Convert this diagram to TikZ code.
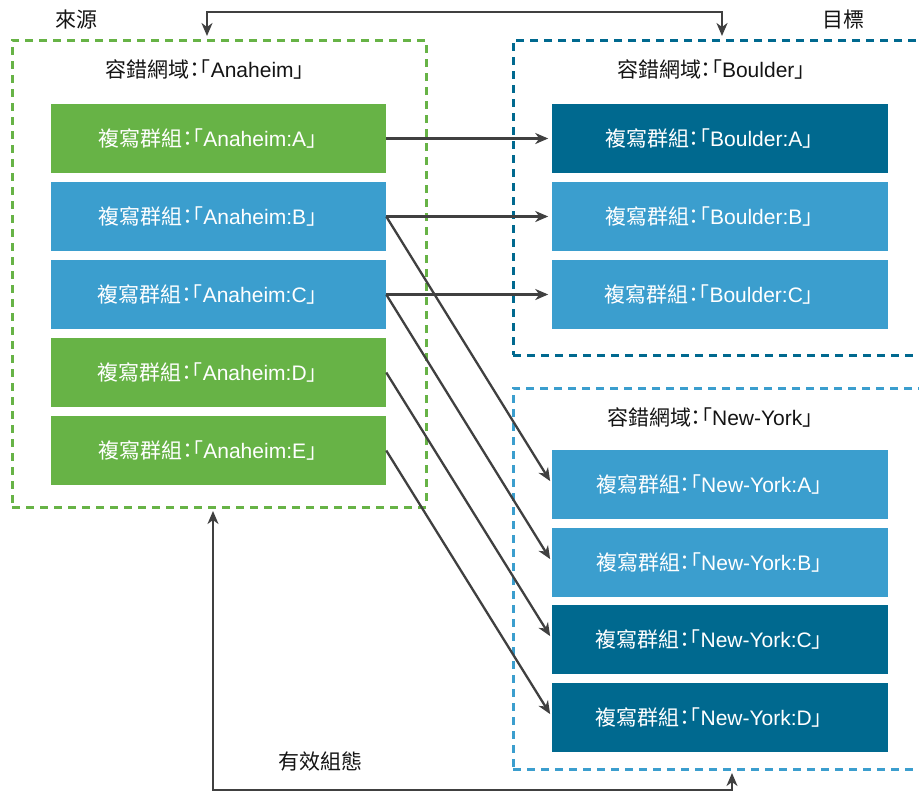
\documentclass[tikz,border=0pt]{standalone}
\usepackage{fontspec}
\setmainfont{Liberation Sans}
\newfontfamily\cjk{Noto Sans CJK TC}[RawFeature=+halt]
\usetikzlibrary{arrows.meta,calc}
\definecolor{cgreen}{RGB}{103,179,70}
\definecolor{clight}{RGB}{59,158,206}
\definecolor{cdark}{RGB}{0,105,143}
\definecolor{cline}{RGB}{64,64,64}
\definecolor{ctext}{RGB}{20,20,20}
\newcommand{\rgtext}[1]{{\cjk 複寫群組：「}#1{\cjk 」}\kern22pt}
\newcommand{\fdtext}[1]{{\cjk 容錯網域：「}#1{\cjk 」}}
\begin{document}
\begin{tikzpicture}[x=1pt,y=-1pt,
  rgbox/.style={minimum width=335.5pt, minimum height=69pt, inner sep=0pt, outer sep=0pt, text=white, font=\fontsize{21}{25}\selectfont},
  greenbox/.style={rgbox, fill=cgreen},
  lightbox/.style={rgbox, fill=clight},
  darkbox/.style={rgbox, fill=cdark},
  frame/.style={line width=3pt, dash pattern=on 8pt off 6pt, inner sep=0pt, outer sep=0pt},
  lbl/.style={text=ctext, inner sep=0pt, font=\fontsize{21}{25}\selectfont},
  arr/.style={draw=cline, line width=2.3pt, -{Stealth[length=13pt,width=11pt,inset=4pt]}, shorten >=4pt},
  biarr/.style={draw=cline, line width=2.3pt, {Stealth[length=13pt,width=11pt,inset=4pt]}-{Stealth[length=13pt,width=11pt,inset=4pt]}, shorten >=4pt, shorten <=4pt}
]
\useasboundingbox (0,0) rectangle (919,793);
\clip (0,0) rectangle (919,793);

% frames
\node[frame, draw=cgreen, minimum width=414pt, minimum height=467pt] (src) at (219,273.5) {};
\node[frame, draw=cdark, minimum width=422pt, minimum height=315pt] (bou) at (724,197.5) {};
\node[frame, draw=clight, minimum width=422pt, minimum height=381pt] (ny) at (724,578.5) {};

% labels
\node[lbl] (srclbl) at (76.5,20) {\cjk 來源};
\node[lbl] (tgtlbl) at (843,20) {\cjk 目標};
\node[lbl] (cfglbl) at (320,762) {\cjk 有效組態};
\node[lbl] (srctitle) at (205,70) {\fdtext{Anaheim}};
\node[lbl] (boutitle) at (711,70) {\fdtext{Boulder}};
\node[lbl] (nytitle) at (710,418) {\fdtext{New-York}};

% boxes
\node[greenbox] (la) at (218.5,138.5) {\rgtext{Anaheim:A}};
\node[lightbox] (lb) at (218.5,216.5) {\rgtext{Anaheim:B}};
\node[lightbox] (lc) at (218.5,294.5) {\rgtext{Anaheim:C}};
\node[greenbox] (ld) at (218.5,372.5) {\rgtext{Anaheim:D}};
\node[greenbox] (le) at (218.5,450.5) {\rgtext{Anaheim:E}};

\node[darkbox] (ba) at (720,138.5) {\rgtext{Boulder:A}};
\node[lightbox] (bb) at (720,216.5) {\rgtext{Boulder:B}};
\node[lightbox] (bc) at (720,294.5) {\rgtext{Boulder:C}};

\node[lightbox] (na) at (720,484.5) {\rgtext{New-York:A}};
\node[lightbox] (nb) at (720,562.5) {\rgtext{New-York:B}};
\node[darkbox] (nc) at (720,639.5) {\rgtext{New-York:C}};
\node[darkbox] (nd) at (720,717.5) {\rgtext{New-York:D}};

% connectors
\draw[arr] (la.east) -- (ba.west);
\draw[arr] (lb.east) -- (bb.west);
\draw[arr] (lc.east) -- (bc.west);
\draw[arr] (lb.east) -- (na.west);
\draw[arr] (lc.east) -- (nb.west);
\draw[arr] (ld.east) -- (nc.west);
\draw[arr] (le.east) -- (nd.west);

\draw[biarr] ([xshift=-12pt]src.north) -- ++(0,-28) -| ([xshift=-2pt]bou.north);
\draw[biarr] ([xshift=-6pt]src.south) -- ++(0,283) -| ([xshift=8pt]ny.south);
\end{tikzpicture}
\end{document}
